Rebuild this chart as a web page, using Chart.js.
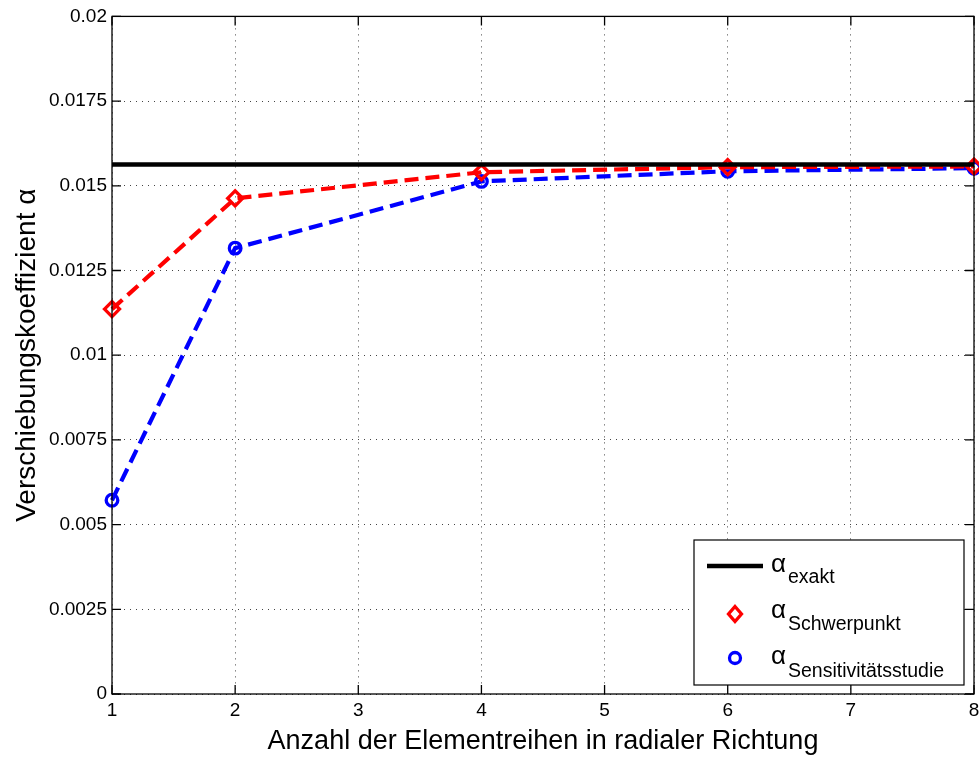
<!DOCTYPE html>
<html><head><meta charset="utf-8">
<script src="https://cdn.jsdelivr.net/npm/chart.js@4/dist/chart.umd.min.js"></script>
<style>html,body{margin:0;padding:0;background:#fff}#wrap{width:979px;height:758px}</style>
</head><body><div id="wrap"><canvas id="c" width="979" height="758"></canvas></div>
<script>
const xValues = [1, 2, 4, 6, 8];
const schwerpunkt = [0.01136, 0.01463, 0.01540, 0.01555, 0.01557];
const sensitivitaet = [0.00572, 0.01316, 0.01513, 0.01543, 0.01552];
const exakt = 0.01563;
const exaktX = [1, 8];
const yTicks = [0, 0.0025, 0.005, 0.0075, 0.01, 0.0125, 0.015, 0.0175, 0.02];
const yTickLabels = ["0", "0.0025", "0.005", "0.0075", "0.01", "0.0125", "0.015", "0.0175", "0.02"];
const legendLabels = [["\u03B1", "exakt"], ["\u03B1", "Schwerpunkt"], ["\u03B1", "Sensitivit\u00E4tsstudie"]];
const FONT = '"Liberation Sans", Arial, sans-serif';

const boxPlugin = {
  id: 'boxPlugin',
  afterDraw(chart) {
    const ctx = chart.ctx, a = chart.chartArea;
    const xs = chart.scales.x, ys = chart.scales.y;
    ctx.save();
    ctx.strokeStyle = '#000'; ctx.lineWidth = 1.3;
    ctx.strokeRect(a.left, a.top, a.right - a.left, a.bottom - a.top);
    ctx.beginPath();
    for (let v = 1; v <= 8; v++) {
      const px = xs.getPixelForValue(v);
      ctx.moveTo(px, a.bottom); ctx.lineTo(px, a.bottom - 9);
      ctx.moveTo(px, a.top); ctx.lineTo(px, a.top + 9);
    }
    yTicks.forEach(v => {
      const py = ys.getPixelForValue(v);
      ctx.moveTo(a.left, py); ctx.lineTo(a.left + 9, py);
      ctx.moveTo(a.right, py); ctx.lineTo(a.right - 9, py);
    });
    ctx.stroke();
    // legend
    const L = 694, T = 540, R = 964, B = 685;
    ctx.fillStyle = '#fff';
    ctx.fillRect(L, T, R - L, B - T);
    ctx.strokeStyle = '#000'; ctx.lineWidth = 1.2;
    ctx.strokeRect(L, T, R - L, B - T);
    ctx.beginPath(); ctx.lineWidth = 4.5; ctx.moveTo(707, 566); ctx.lineTo(763, 566); ctx.stroke();
    ctx.lineWidth = 3.3; ctx.strokeStyle = '#ff0000';
    const dy = 614;
    ctx.beginPath(); ctx.moveTo(735, dy - 7.5); ctx.lineTo(741.5, dy); ctx.lineTo(735, dy + 7.5); ctx.lineTo(728.5, dy); ctx.closePath(); ctx.stroke();
    ctx.strokeStyle = '#0000ff';
    ctx.beginPath(); ctx.arc(735, 658, 5.5, 0, Math.PI * 2); ctx.stroke();
    ctx.fillStyle = '#000'; ctx.textBaseline = 'alphabetic'; ctx.textAlign = 'left';
    const aBase = [572, 618, 664], sBase = [583, 630, 677];
    legendLabels.forEach((lab, i) => {
      ctx.font = '26px ' + FONT;
      ctx.fillText(lab[0], 771, aBase[i]);
      ctx.font = '19.5px ' + FONT;
      ctx.fillText(lab[1], 788, sBase[i]);
    });
    ctx.restore();
  }
};

new Chart(document.getElementById('c'), {
  type: 'line',
  data: {
    datasets: [
      {
        label: 'exakt',
        data: exaktX.map(x => ({x: x, y: exakt})),
        borderColor: '#000', borderWidth: 4.5, pointRadius: 0, fill: false, clip: false
      },
      {
        label: 'Schwerpunkt',
        data: xValues.map((x, i) => ({x: x, y: schwerpunkt[i]})),
        borderColor: '#ff0000', borderWidth: 4.2, borderDash: [14, 7],
        pointStyle: 'rectRot', pointRadius: 7.5, pointBorderWidth: 3.3,
        pointBackgroundColor: 'rgba(255,255,255,0)', pointBorderColor: '#ff0000', fill: false, clip: false
      },
      {
        label: 'Sensitivitaet',
        data: xValues.map((x, i) => ({x: x, y: sensitivitaet[i]})),
        borderColor: '#0000ff', borderWidth: 4.2, borderDash: [14, 7],
        pointStyle: 'circle', pointRadius: 5.8, pointBorderWidth: 3.3,
        pointBackgroundColor: 'rgba(255,255,255,0)', pointBorderColor: '#0000ff', fill: false, clip: false
      }
    ]
  },
  options: {
    responsive: false, animation: false, devicePixelRatio: 1,
    layout: {autoPadding: false, padding: {left: 0, right: 5, top: 16, bottom: 0}},
    plugins: {legend: {display: false}, tooltip: {enabled: false}},
    scales: {
      x: {
        type: 'linear', min: 1, max: 8,
        afterFit(s) { s.height = 64; s.paddingRight = 0; s.paddingLeft = 0; },
        ticks: {stepSize: 1, color: '#000', font: {family: FONT, size: 19}, padding: 5, maxRotation: 0},
        grid: {color: '#444', lineWidth: 1, drawTicks: false},
        border: {display: false, dash: [1, 5]},
        title: {display: true, text: 'Anzahl der Elementreihen in radialer Richtung', color: '#000', font: {family: FONT, size: 27}, padding: {top: 0, bottom: 0}}
      },
      y: {
        type: 'linear', min: 0, max: 0.02,
        afterFit(s) { s.width = 112; },
        afterBuildTicks(s) { s.ticks = yTicks.map(v => ({value: v})); },
        ticks: {color: '#000', font: {family: FONT, size: 19}, padding: 5,
          callback: (v) => { const i = yTicks.findIndex(t => Math.abs(t - v) < 1e-9); return i >= 0 ? yTickLabels[i] : ''; }},
        grid: {color: '#444', lineWidth: 1, drawTicks: false},
        border: {display: false, dash: [1, 5]},
        title: {display: true, text: 'Verschiebungskoeffizient \u03B1', color: '#000', font: {family: FONT, size: 28}, padding: {top: 10, bottom: 0}}
      }
    }
  },
  plugins: [boxPlugin]
});
</script></body></html>
